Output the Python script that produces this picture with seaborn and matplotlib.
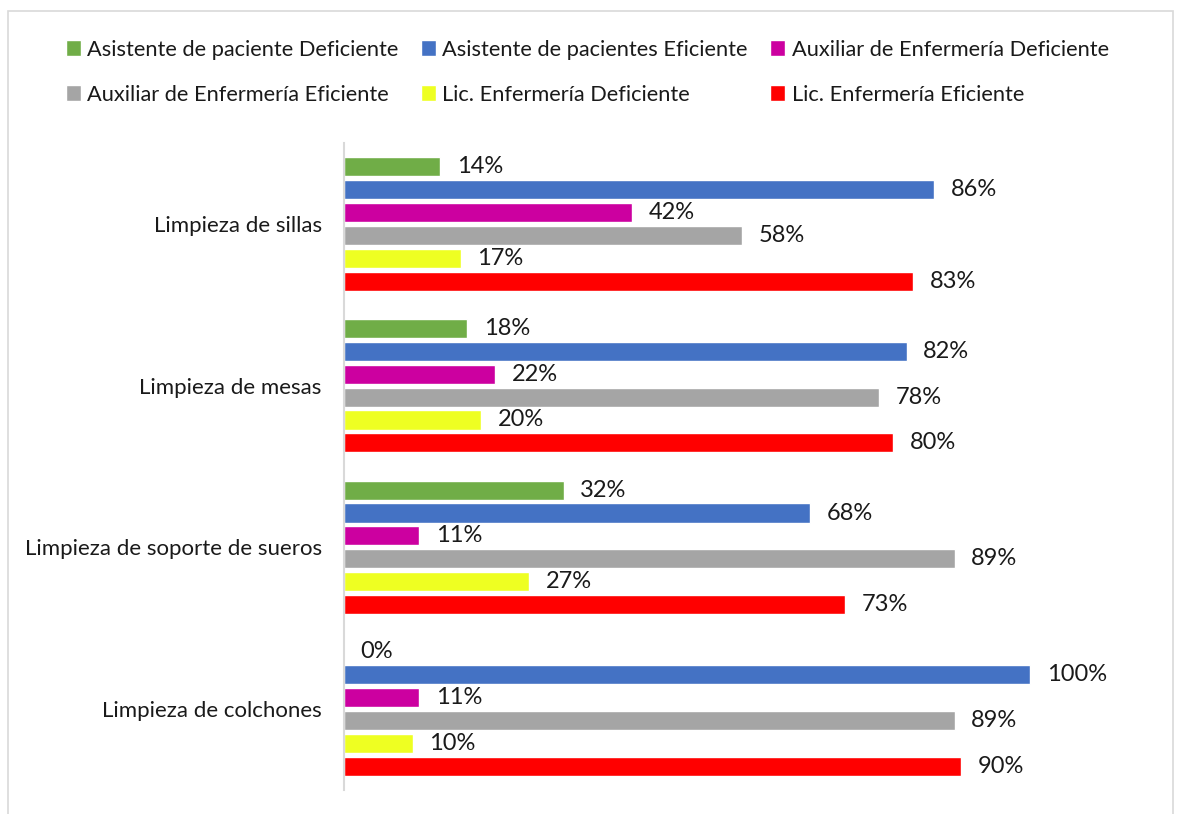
import pandas as pd
import numpy as np
import matplotlib.pyplot as plt
import seaborn as sns
from matplotlib.patches import Patch, Rectangle

categorias = ['Limpieza de sillas', 'Limpieza de mesas',
              'Limpieza de soporte de sueros', 'Limpieza de colchones']
series = ['Asistente de paciente Deficiente', 'Asistente de pacientes Eficiente',
          'Auxiliar de Enfermería Deficiente', 'Auxiliar de Enfermería Eficiente',
          'Lic. Enfermería Deficiente', 'Lic. Enfermería Eficiente']
asist_def = [14, 18, 32, 0]
asist_efi = [86, 82, 68, 100]
aux_def = [42, 22, 11, 11]
aux_efi = [58, 78, 89, 89]
lic_def = [17, 20, 27, 10]
lic_efi = [83, 80, 73, 90]
colores = ['#70AD47', '#4472C4', '#CC00A0', '#A5A5A5', '#EEFF22', '#FF0000']

valores = [asist_def, asist_efi, aux_def, aux_efi, lic_def, lic_efi]
rows = []
for s, vals in zip(series, valores):
    for c, v in zip(categorias, vals):
        rows.append({'categoria': c, 'serie': s, 'valor': v})
df = pd.DataFrame(rows)

sns.set_style('white')
plt.rcParams['font.family'] = ['Lato', 'DejaVu Sans']

fig = plt.figure(figsize=(11.84, 8.14), dpi=100)
ax = fig.add_axes([344 / 1184, 1 - 790 / 814, (1150 - 344) / 1184, (790 - 143) / 814])

sns.barplot(data=df, y='categoria', x='valor', hue='serie', orient='h',
            palette=colores, width=0.85, gap=0.17, ax=ax, legend=False,
            order=categorias, hue_order=series, saturation=1)

for cont in ax.containers:
    ax.bar_label(cont, labels=[f'{v:.0f}%' for v in cont.datavalues],
                 padding=12, fontsize=17, color='#1a1a1a')

ax.set_xlim(0, (1150 - 344) / 6.86)
ax.set_ylim(3.5, -0.5)
ax.set_xlabel('')
ax.set_ylabel('')
ax.set_xticks([])
ax.tick_params(axis='y', length=0, pad=16, labelsize=16, labelcolor='#1a1a1a')
for side in ['top', 'right', 'bottom']:
    ax.spines[side].set_visible(False)
ax.spines['left'].set_color('#d9d9d9')
ax.spines['left'].set_linewidth(1.5)

# leyenda en filas (orden por columnas de matplotlib)
orden = [0, 3, 1, 4, 2, 5]
handles = [Patch(facecolor=colores[i], label=series[i]) for i in orden]
fig.legend(handles=handles, ncol=3, loc='upper left',
           bbox_to_anchor=(46 / 1184, 1 - 20 / 814), frameon=False,
           fontsize=15.7, handlelength=0.7, handleheight=0.7,
           handletextpad=0.3, columnspacing=1.0, labelspacing=1.15,
           labelcolor='#1a1a1a')

fig.patches.append(Rectangle((8 / 1184, -0.1), (1173 - 8) / 1184, 1.1 - 11 / 814,
                             transform=fig.transFigure, fill=False,
                             edgecolor='#d9d9d9', linewidth=1.2))

fig.savefig('out.png', dpi=100)
